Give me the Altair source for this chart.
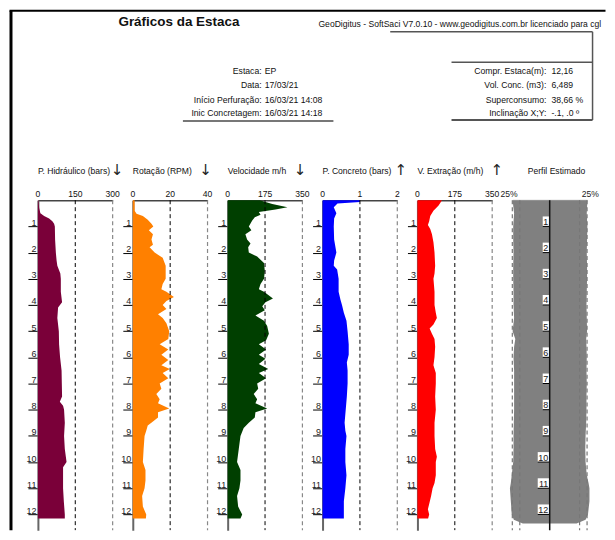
import altair as alt
import pandas as pd

# ---------------- data ----------------
hid_depth = [0, 0.3, 0.5, 0.6, 0.7, 0.8, 0.9, 1.0, 1.5, 2.0, 2.3, 2.5, 2.8, 3.0, 3.5, 3.9, 4.1, 4.5, 5.0, 5.5,
             6.0, 6.5, 7.0, 7.5, 7.7, 7.85, 8.0, 8.5, 9.0, 9.5, 10.0, 10.2, 10.5, 11.0, 11.5, 12.0, 12.16]
hid_value = [2, 5, 10, 25, 45, 58, 65, 68, 69, 72, 75, 78, 90, 92, 92, 97, 81, 78, 84, 85,
             89, 95, 96, 97, 88, 101, 105, 108, 105, 108, 115, 101, 101, 101, 104, 108, 108]

rot_depth = [0, 0.4, 0.52, 0.6, 0.75, 0.9, 1.0, 1.15, 1.3, 1.5, 1.7, 1.8, 2.0, 2.2, 2.5, 3.0, 3.2, 3.4, 3.5, 3.7,
             3.85, 4.0, 4.15, 4.35, 4.5, 4.7, 5.0, 5.3, 5.5, 5.7, 5.9, 6.1, 6.3, 6.45, 6.6, 6.8, 7.0, 7.2, 7.4, 7.6,
             7.75, 7.95, 8.1, 8.3, 8.45, 8.6, 8.8, 9.0, 9.5, 10.0, 10.3, 10.7, 11.0, 11.3, 11.7, 12.0, 12.16]
rot_value = [1, 1, 2, 5.4, 8, 10, 11, 8.6, 10.8, 10, 10.8, 9, 11.7, 16, 17.6, 17.6, 16, 15.3, 18, 22,
             18, 16, 18, 13.5, 16, 18, 19.5, 19, 14.4, 19, 15.3, 19, 15.3, 19.8, 16, 19, 14.4, 15.3, 12.6, 14.4,
             13.5, 19.5, 13.5, 13.5, 10.8, 8, 7.2, 6.3, 5.8, 5.4, 6.8, 6.8, 6.3, 5, 5.4, 7.2, 7]

vel_depth = [0, 0.14, 0.27, 0.35, 0.45, 0.55, 0.65, 0.77, 1.0, 1.15, 1.3, 1.5, 1.65, 1.8, 2.0, 2.15, 2.4, 2.7, 3.0, 3.2,
             3.4, 3.5, 3.75, 3.9, 4.05, 4.2, 4.4, 4.6, 4.8, 5.1, 5.35, 5.5, 5.7, 5.9, 6.05, 6.25, 6.45, 6.6, 6.8, 7.0,
             7.2, 7.4, 7.6, 7.75, 7.95, 8.1, 8.3, 8.5, 8.7, 9.0, 9.5, 10.0, 10.3, 10.7, 11.0, 11.3, 11.7, 12.0, 12.16]
vel_value = [150, 209, 280, 224, 146, 154, 127, 115, 99, 111, 83, 91, 107, 96, 99, 138, 170, 174, 170, 154,
             146, 170, 212, 177, 162, 174, 130, 170, 185, 193, 180, 146, 180, 146, 177, 146, 190, 146, 180, 138,
             143, 122, 138, 130, 185, 130, 127, 99, 75, 60, 52, 44, 60, 60, 55, 44, 49, 68, 60]

con_depth = [0, 0.07, 0.12, 0.27, 0.5, 0.7, 1.0, 1.5, 2.0, 2.3, 2.5, 2.65, 3.0, 3.5, 3.8, 4.0, 4.3, 4.6, 5.0, 5.5,
             5.9, 6.2, 6.5, 7.0, 7.5, 8.0, 8.5, 8.8, 9.0, 9.5, 10.0, 10.5, 11.0, 11.5, 12.0, 12.16]
con_value = [1.0, 1.0, 0.4, 0.3, 0.37, 0.31, 0.3, 0.31, 0.37, 0.31, 0.3, 0.39, 0.43, 0.43, 0.48, 0.52, 0.57, 0.64, 0.67, 0.70,
             0.70, 0.65, 0.67, 0.67, 0.65, 0.62, 0.59, 0.61, 0.64, 0.61, 0.61, 0.64, 0.61, 0.57, 0.57, 0.57]

ext_depth = [0, 0.2, 0.4, 0.6, 0.8, 0.95, 1.1, 1.3, 1.6, 2.0, 2.5, 2.8, 3.0, 3.5, 4.0, 4.3, 4.5, 4.75, 4.9, 5.1,
             5.3, 5.6, 6.0, 6.3, 6.6, 7.0, 7.5, 8.0, 8.5, 9.0, 9.5, 9.8, 10.0, 10.5, 10.8, 11.0, 11.3, 11.6, 11.8, 12.0, 12.16]
ext_value = [115, 99, 75, 60, 55, 49, 60, 68, 75, 80, 83, 80, 75, 80, 80, 86, 91, 75, 57, 68,
             80, 83, 80, 75, 86, 86, 83, 86, 80, 80, 83, 91, 86, 86, 80, 71, 64, 55, 49, 55, 50]

perf_depth = [0, 0.5, 1, 1.5, 2, 2.5, 3, 3.5, 4, 4.5, 5, 5.3, 5.6, 6, 6.5, 7, 7.5, 8, 8.5, 9,
              9.5, 10, 10.5, 10.8, 11, 11.5, 12, 12.2, 12.35]
perf_left = [1.24, 1.19, 1.22, 1.22, 1.21, 1.22, 1.22, 1.21, 1.21, 1.19, 1.24, 1.15, 1.19, 1.21, 1.19, 1.19, 1.19, 1.19, 1.2, 1.21,
             1.21, 1.22, 1.27, 1.3, 1.33, 1.3, 1.27, 1.2, 0.9]
perf_right = [1.26, 1.24, 1.26, 1.25, 1.24, 1.25, 1.25, 1.24, 1.23, 1.24, 1.25, 1.22, 1.23, 1.24, 1.23, 1.24, 1.23, 1.23, 1.22, 1.2,
              1.19, 1.2, 1.24, 1.3, 1.33, 1.33, 1.28, 1.2, 0.9]

depth_ticks = [1, 2, 3, 4, 5, 6, 7, 8, 9, 10, 11, 12]

panel_titles = ["P. Hidráulico (bars)", "Rotação (RPM)", "Velocidade m/h", "P. Concreto (bars)", "V. Extração (m/h)"]
panel_arrows = ["↓", "↓", "↓", "↑", "↑"]
panel_ticks = [[0, 150, 300], [0, 20, 40], [0, 175, 350], [0, 1, 2], [0, 175, 350]]
panel_colors = ["#7a0039", "#ff8000", "#003f00", "#0000ff", "#ff0000"]
perf_title = "Perfil Estimado"
perf_label = "25%"

main_title = "Gráficos da Estaca"
soft_text = "GeoDigitus - SoftSaci V7.0.10 - www.geodigitus.com.br licenciado para cgl"
left_keys = ["Estaca:", "Data:", "Início Perfuração:", "Inic Concretagem:"]
left_vals = ["EP", "17/03/21", "16/03/21 14:08", "16/03/21 14:18"]
right_keys = ["Compr. Estaca(m):", "Vol. Conc. (m3):", "Superconsumo:", "Inclinação X;Y:"]
right_vals = ["12,16", "6,489", "38,66 %", "-.1, .0 º"]

# ---------------- layout ----------------
FONT = "Liberation Sans Narrow, Liberation Sans, Arial, sans-serif"
W, H = 75, 331
PXM = 26.27
YMAX = H / PXM
HDR_W, HDR_H = 551, 190
one = pd.DataFrame({"k": [0]})


def yscale():
    return alt.Scale(domain=[0, YMAX], reverse=True, nice=False, zero=False)


def txt(t, x, y, align="left", size=8.7, weight="normal", font=FONT, color="#111"):
    return alt.Chart(one).mark_text(text=t, align=align, baseline="middle", fontSize=size,
                                    fontWeight=weight, font=font, color=color).encode(
        x=alt.value(x), y=alt.value(y))


def hline(x1, x2, y, color="#555", width=1.5):
    return alt.Chart(one).mark_rule(color=color, strokeWidth=width).encode(
        x=alt.value(x1), x2=alt.value(x2), y=alt.value(y))


def vline(x, y1, y2, color="#555", width=1.5):
    return alt.Chart(one).mark_rule(color=color, strokeWidth=width).encode(
        x=alt.value(x), y=alt.value(y1), y2=alt.value(y2))


# header (coordinates relative to header view; view left = first panel left)
hdr = [
    vline(-27, 0, 521, color="black", width=3),
    hline(-28.5, 569.5, 0, color="black", width=2),
    txt(main_title, 141.5, 11, align="center", size=13.5, weight="bold", font="Liberation Sans, Arial"),
    txt(soft_text, 281.5, 13, size=8.6),
    hline(353.5, 556.5, 21),
    vline(556.5, 21, 109.5),
    hline(415, 556.5, 51.5),
    hline(415, 556.5, 109.5, width=2),
    hline(145.5, 296.5, 110.5, color="#777", width=2),
]
rows = [60.5, 74, 89, 102]
for k, v, yy in zip(left_keys, left_vals, rows):
    hdr.append(txt(k, 224.5, yy, align="right"))
    hdr.append(txt(v, 227.5, yy))
for k, v, yy in zip(right_keys, right_vals, rows):
    hdr.append(txt(k, 510.2, yy, align="right"))
    hdr.append(txt(v, 515.2, yy))
header = alt.layer(*hdr).properties(width=HDR_W, height=HDR_H)

y_axis = alt.Axis(orient="left", values=depth_ticks, tickSize=10, tickColor="black", tickWidth=1,
                  labelPadding=-8, labelAlign="right", labelBaseline="alphabetic", labelOffset=-1,
                  labelFontSize=9, labelFont=FONT, labelColor="#222", labelOverlap=False,
                  domainColor="#666", domainWidth=2, grid=False, title=None)


def panel(depth, vals, color, ticks, title, arrow, arrow_x):
    df = pd.DataFrame({"d": depth, "v": vals})
    xs = alt.Scale(domain=[ticks[0], ticks[2]], nice=False, zero=True)
    xa = alt.Axis(orient="top", labels=False, ticks=False, tickSize=0,
                  domainColor="#444", domainWidth=1.5, grid=False, title=None)
    area = alt.Chart(df).mark_area(orient="horizontal", color=color, opacity=1).encode(
        y=alt.Y("d:Q", scale=yscale(), axis=y_axis),
        x=alt.X("v:Q", scale=xs, axis=xa),
    )
    mid = alt.Chart(one).mark_rule(color="black", strokeDash=[4, 3], strokeWidth=1).encode(x=alt.datum(ticks[1]))
    right = alt.Chart(one).mark_rule(color="#888", strokeDash=[4, 3], strokeWidth=1.2).encode(x=alt.datum(ticks[2]))
    labels = [
        alt.Chart(one).mark_text(text=str(tv), fontSize=8.6, font=FONT, color="#111", baseline="middle",
                                 align="center").encode(x=alt.datum(tv), y=alt.value(-6))
        for tv in ticks
    ]
    t = txt(title, 0, -29, size=8.6)
    a = txt(arrow, arrow_x, -30, align="center", size=15, font="DejaVu Sans", color="#222")
    return alt.layer(area, mid, right, *labels, t, a).properties(width=W, height=H)


arrow_xs = [79.5, 73, 72.5, 78.5, 79.5]
series = [(hid_depth, hid_value), (rot_depth, rot_value), (vel_depth, vel_value),
          (con_depth, con_value), (ext_depth, ext_value)]
panels = [panel(d, v, c, tk, tt, ar, ax) for (d, v), c, tk, tt, ar, ax in
          zip(series, panel_colors, panel_ticks, panel_titles, panel_arrows, arrow_xs)]

# estimated profile
pdf = pd.DataFrame({"d": perf_depth, "lo": [-v for v in perf_left], "hi": perf_right})
pxs = alt.Scale(domain=[-1.25, 1.25], nice=False, zero=False)
p_area = alt.Chart(pdf).mark_area(orient="horizontal", color="#808080").encode(
    y=alt.Y("d:Q", scale=yscale(), axis=None),
    x=alt.X("lo:Q", scale=pxs, axis=alt.Axis(orient="top", labels=False, ticks=False, tickSize=0,
                                             domainColor="#c8c8c8", domainWidth=2, grid=False, title=None)),
    x2="hi:Q",
)
p_rules = [
    alt.Chart(one).mark_rule(color="#777", strokeDash=[4, 3], strokeWidth=1.2).encode(x=alt.datum(xv))
    for xv in (-1.25, -1.0, 1.0, 1.25)
]
p_center = alt.Chart(one).mark_rule(color="#111", strokeWidth=1.5).encode(x=alt.datum(0))
lab = pd.DataFrame({"d": depth_ticks, "t": [str(v) for v in depth_ticks]})
lab["w"] = -(lab["t"].str.len() * 5.0 + 2) / 30.0
lab["z"] = 0.0
lab["top"] = lab["d"] - 10.0 / PXM
p_box = alt.Chart(lab).mark_rect(color="white").encode(
    x=alt.X("w:Q", scale=pxs), x2="z:Q", y=alt.Y("top:Q", scale=yscale()), y2="d:Q")
p_line = alt.Chart(lab).mark_rule(color="black", strokeWidth=1).encode(
    x=alt.X("w:Q", scale=pxs), x2="z:Q", y=alt.Y("d:Q", scale=yscale()))
p_text = alt.Chart(lab).mark_text(align="right", baseline="alphabetic", dx=-1.5, dy=-1.5, fontSize=9,
                                  font=FONT, color="#222").encode(
    x=alt.X("z:Q", scale=pxs), y=alt.Y("d:Q", scale=yscale()), text="t:N")
p_t = txt(perf_title, 15.5, -29, size=8.6)
p_l1 = alt.Chart(one).mark_text(text=perf_label, fontSize=8.6, font=FONT, color="#222", baseline="middle").encode(
    x=alt.datum(-1.36), y=alt.value(-6))
p_l2 = alt.Chart(one).mark_text(text=perf_label, fontSize=8.6, font=FONT, color="#222", baseline="middle").encode(
    x=alt.datum(1.36), y=alt.value(-6))
perfil = alt.layer(p_area, *p_rules, p_box, p_line, p_center, p_text, p_t, p_l1, p_l2).properties(width=W, height=H)

row = alt.hconcat(*panels, perfil, spacing=20.2, bounds="flush")
chart = alt.vconcat(header, row, spacing=0, bounds="flush").properties(
    padding=0, background="white").configure_view(strokeWidth=0)

chart.save("out.html", embed_options={"renderer": "svg", "actions": False})
